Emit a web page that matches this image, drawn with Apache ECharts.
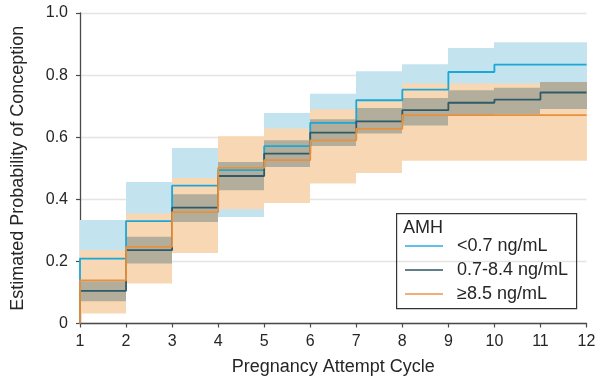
<!DOCTYPE html>
<html>
<head>
<meta charset="utf-8">
<title>Estimated Probability of Conception by AMH</title>
<script src="https://cdn.jsdelivr.net/npm/echarts@6/dist/echarts.min.js"></script>
<style>
  html, body { margin: 0; padding: 0; background: #fff; }
  #chart { width: 601px; height: 385px; }
</style>
</head>
<body>
<div id="chart"></div>
<script>
// Start of each pregnancy attempt cycle interval (step held until the next cycle)
const cycles = [1, 2, 3, 4, 5, 6, 7, 8, 9, 10, 11];
const xMin = 1, xMax = 12;
const yTickLabels = ['0', '0.2', '0.4', '0.6', '0.8', '1.0'];

const seriesNames = ['<0.7 ng/mL', '0.7-8.4 ng/mL', '\u22658.5 ng/mL'];

// AMH < 0.7 ng/mL
const lowEst   = [0.209, 0.330, 0.444, 0.494, 0.571, 0.646, 0.719, 0.753, 0.810, 0.834, 0.834];
const lowUpper = [0.333, 0.456, 0.565, 0.590, 0.678, 0.740, 0.812, 0.835, 0.887, 0.906, 0.906];
const lowLower = [0.100, 0.210, 0.330, 0.343, 0.460, 0.550, 0.620, 0.660, 0.720, 0.750, 0.750];

// AMH 0.7-8.4 ng/mL
const midEst   = [0.105, 0.236, 0.373, 0.475, 0.547, 0.615, 0.651, 0.687, 0.711, 0.721, 0.744];
const midUpper = [0.136, 0.279, 0.416, 0.520, 0.590, 0.658, 0.694, 0.726, 0.751, 0.759, 0.778];
const midLower = [0.072, 0.193, 0.327, 0.429, 0.504, 0.572, 0.612, 0.638, 0.671, 0.674, 0.691];

// AMH >= 8.5 ng/mL
const highEst   = [0.139, 0.247, 0.359, 0.501, 0.526, 0.590, 0.627, 0.671, 0.671, 0.671, 0.671];
const highUpper = [0.236, 0.354, 0.469, 0.603, 0.628, 0.690, 0.716, 0.773, 0.773, 0.773, 0.773];
const highLower = [0.032, 0.129, 0.227, 0.368, 0.388, 0.451, 0.485, 0.524, 0.524, 0.524, 0.524];

const FONT = '"Liberation Sans", Arial, Helvetica, sans-serif';
const TEXT = '#262626';

// Step curve: starts at 0 on cycle 1, holds each estimate across its interval
function stepPoints(est) {
  const pts = [[xMin, 0]];
  cycles.forEach((c, i) => pts.push([c, est[i]]));
  pts.push([xMax, est[est.length - 1]]);
  return pts;
}

// Confidence band as one rectangle per cycle interval
function bandData(lower, upper) {
  return cycles.map((c, i) => [c, lower[i], upper[i]]);
}

function renderBand(params, api) {
  const x0 = api.value(0);
  const lo = api.value(1);
  const hi = api.value(2);
  const pTop = api.coord([x0, hi]);
  const pBot = api.coord([x0 + 1, lo]);
  // snap horizontal edges to whole pixels so neighbouring rectangles meet without seams
  const left = Math.round(pTop[0]);
  const right = Math.round(pBot[0]);
  return {
    type: 'rect',
    shape: { x: left, y: pTop[1], width: right - left, height: pBot[1] - pTop[1] },
    style: { fill: api.visual('color') }
  };
}

function bandSeries(id, lower, upper, color, z) {
  return {
    id: id,
    type: 'custom',
    renderItem: renderBand,
    data: bandData(lower, upper),
    encode: { x: 0, y: [1, 2] },
    itemStyle: { color: color },
    silent: true,
    z: z
  };
}

function lineSeries(name, est, color, z) {
  return {
    name: name,
    type: 'line',
    step: 'end',
    data: stepPoints(est),
    symbol: 'none',
    lineStyle: { color: color, width: 1.8 },
    itemStyle: { color: color },
    z: z
  };
}

const chart = echarts.init(document.getElementById('chart'), null, { renderer: 'canvas' });

chart.setOption({
  animation: false,
  backgroundColor: '#fff',
  grid: { left: 80, right: 14.5, top: 13, bottom: 61.5, containLabel: false },
  xAxis: {
    type: 'value',
    min: xMin,
    max: xMax,
    interval: 1,
    name: 'Pregnancy Attempt Cycle',
    nameLocation: 'middle',
    nameGap: 35,
    nameTextStyle: { fontFamily: FONT, fontSize: 18, color: TEXT },
    axisLine: { show: true, lineStyle: { color: '#4a4a4a', width: 1.3 } },
    axisTick: { show: true, length: 4, lineStyle: { color: '#4a4a4a', width: 1.2 } },
    axisLabel: { fontFamily: FONT, fontSize: 16, color: TEXT, margin: 10 },
    splitLine: { show: false }
  },
  yAxis: {
    type: 'value',
    min: 0,
    max: 1,
    interval: 0.2,
    name: 'Estimated Probability of Conception',
    nameLocation: 'middle',
    nameRotate: 90,
    nameGap: 53,
    nameTextStyle: { fontFamily: FONT, fontSize: 18, color: TEXT },
    axisLine: { show: true, lineStyle: { color: '#4a4a4a', width: 1.3 } },
    axisTick: { show: true, length: 4, lineStyle: { color: '#4a4a4a', width: 1.2 } },
    axisLabel: {
      fontFamily: FONT, fontSize: 16, color: TEXT, margin: 12,
      formatter: v => yTickLabels[Math.round(v / 0.2)]
    },
    splitLine: { show: true, lineStyle: { color: '#e4e4e4', width: 1.3 } }
  },
  legend: {
    data: seriesNames.map((n, i) => ({
      name: n,
      itemStyle: { color: ['#5cc3e6', '#5f7f89', '#f3ad76'][i] }
    })),
    orient: 'vertical',
    left: 405,
    top: 237,
    icon: 'rect',
    itemWidth: 38,
    itemHeight: 2,
    itemGap: 6,
    padding: 0,
    selectedMode: false,
    textStyle: { fontFamily: FONT, fontSize: 18, color: TEXT, padding: [0, 0, 0, 9] }
  },
  graphic: [
    {
      type: 'rect',
      left: 396, top: 213,
      shape: { width: 180, height: 95 },
      style: { fill: 'rgba(0,0,0,0)', stroke: '#333', lineWidth: 1.2 },
      z: 10
    },
    {
      type: 'text',
      left: 403, top: 219,
      style: { text: 'AMH', font: '18px ' + FONT, fill: TEXT },
      z: 10
    }
  ],
  series: [
    bandSeries('band-low', lowLower, lowUpper, '#c3e3ef', 1),
    bandSeries('band-high', highLower, highUpper, '#f8d7b5', 1),
    bandSeries('band-mid', midLower, midUpper, '#b3ae9c', 1),
    lineSeries(seriesNames[0], lowEst, '#1aa8d8', 3),
    lineSeries(seriesNames[1], midEst, '#2f5a66', 3),
    lineSeries(seriesNames[2], highEst, '#e8913c', 3)
  ]
});
</script>
</body>
</html>
